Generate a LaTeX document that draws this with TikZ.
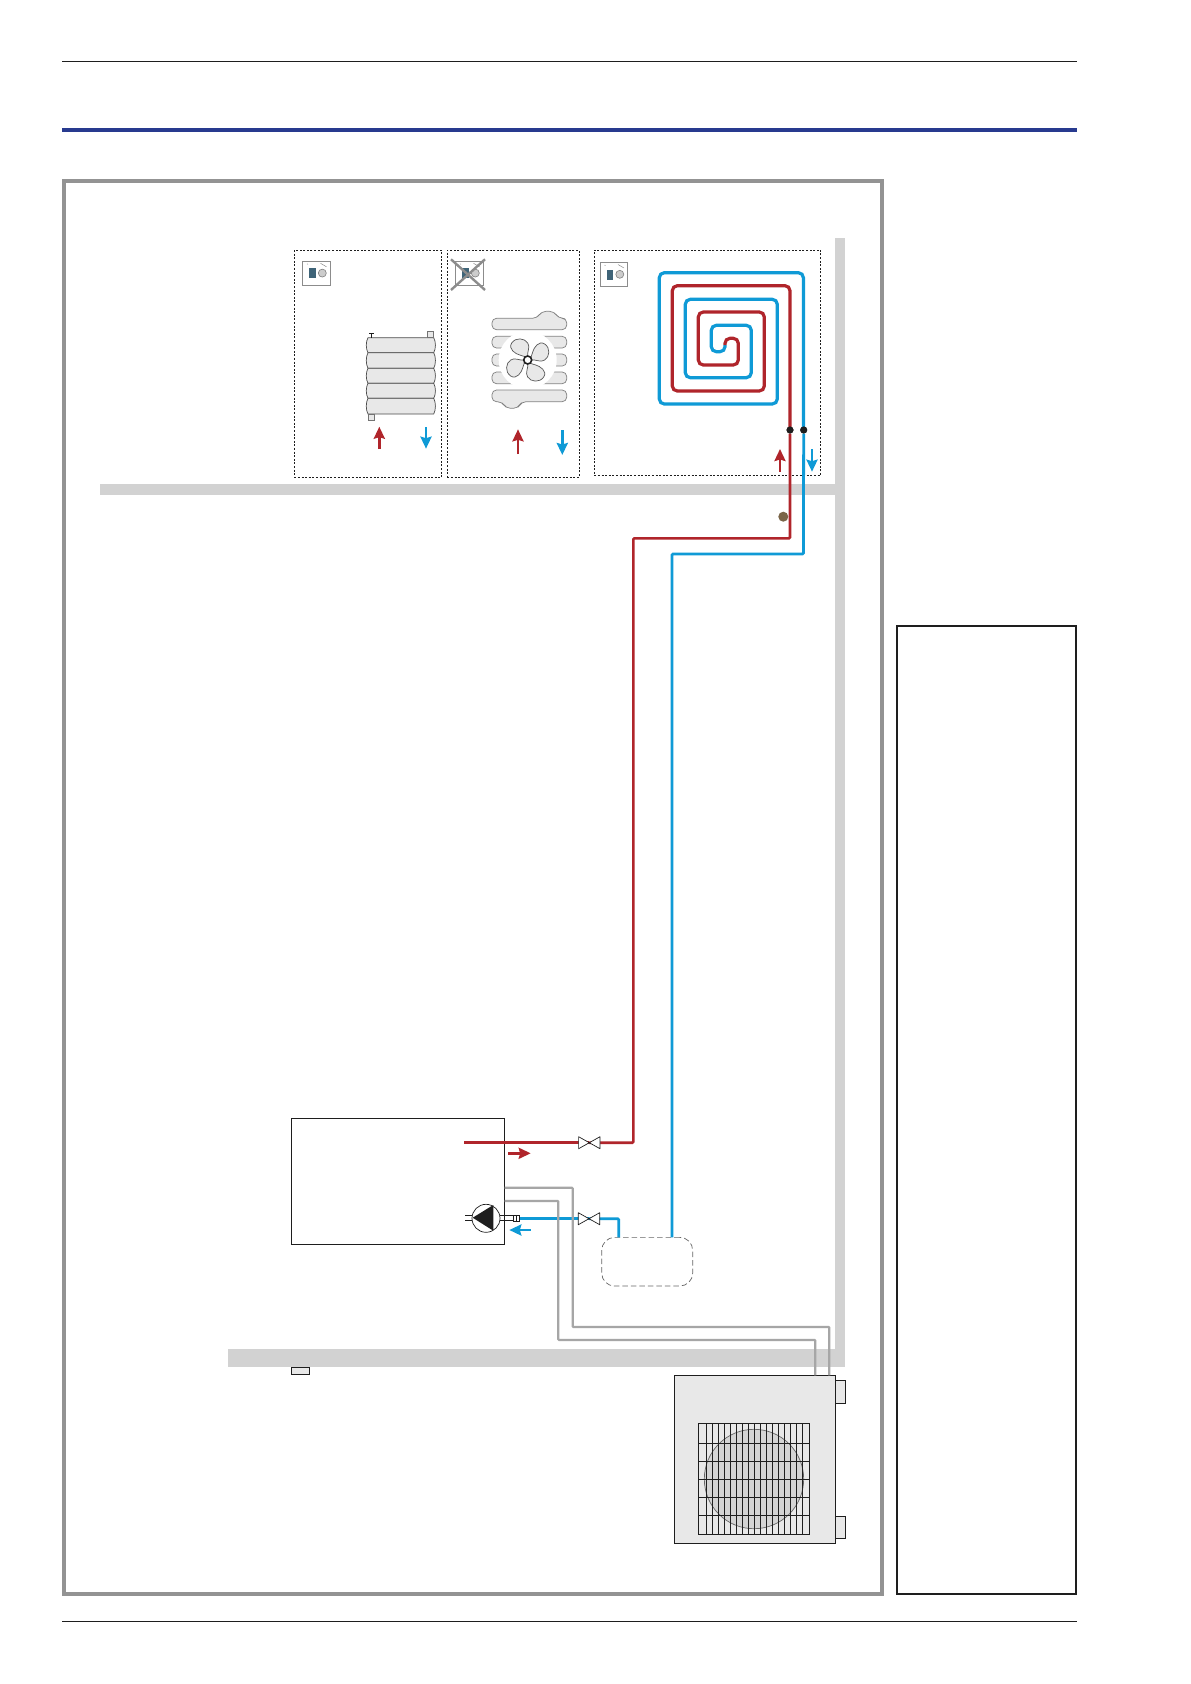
\documentclass[tikz,border=0pt]{standalone}
\usetikzlibrary{arrows.meta,calc}
\definecolor{pipered}{HTML}{B0252B}
\definecolor{pipeblue}{HTML}{0F9AD6}
\definecolor{wallgrey}{HTML}{D2D2D2}
\definecolor{framegrey}{HTML}{939393}
\definecolor{cablegrey}{HTML}{A6A6A6}
\definecolor{unitfill}{HTML}{E8E8E8}
\definecolor{headblue}{HTML}{283A8F}
\definecolor{inkblack}{HTML}{1E1E1E}
\definecolor{thermoteal}{HTML}{3F6478}
\definecolor{sensorbrown}{HTML}{7A6548}
\tikzset{
  box/.style={draw=inkblack,inner sep=0pt,outer sep=0pt,line width=0.9pt},
  zone/.style={draw=inkblack,inner sep=0pt,outer sep=0pt,line width=0.8pt,dash pattern=on 2pt off 1.6pt},
  wall/.style={fill=wallgrey,draw=none},
  redpipe/.style={draw=pipered,line width=2.6pt,rounded corners=1pt},
  bluepipe/.style={draw=pipeblue,line width=2.8pt,rounded corners=1pt},
  coilred/.style={draw=pipered,line width=3.2pt,rounded corners=5pt},
  coilblue/.style={draw=pipeblue,line width=3.2pt,rounded corners=5pt},
  cable/.style={draw=cablegrey,line width=2.2pt,rounded corners=0.8pt},
  flowred/.style={draw=pipered,line width=2.6pt,-{Stealth[length=12pt,width=11pt,inset=1.5pt]}},
  flowblue/.style={draw=pipeblue,line width=2.6pt,-{Stealth[length=12pt,width=11pt,inset=1.5pt]}},
  soft/.style={fill=unitfill,draw=black!55,line width=0.7pt},
  finpart/.style={fill=unitfill,draw=black!50,line width=0.7pt,rounded corners=4.5pt},
  blade/.style={fill=unitfill,draw=black!65,line width=0.7pt},
  pipetick/.style={draw=inkblack,line width=0.7pt},
  grille/.style={draw=inkblack,line width=0.85pt},
  thermo/.style={draw=black!45,fill=white,line width=1pt,inner sep=0pt,outer sep=0pt,minimum width=27.5pt,minimum height=24pt},
  valvenode/.style={inner sep=0pt,outer sep=0pt,minimum width=21pt,minimum height=12pt},
  joint/.style={circle,fill=inkblack,inner sep=0pt,minimum size=7pt},
}
\newcommand{\thermoface}[2]{%
  \begin{scope}[shift={(#1,#2)}]
    \fill[thermoteal] (-7.2,-5) rectangle (-1,5);
    \draw[fill=black!20,draw=black!50,line width=0.6pt] (5.8,-0.2) circle (4);
    \draw[black!45,line width=0.5pt] (4,-10) -- (10,-6.5);
    \draw[black!45,line width=0.5pt] (-9.5,-9.5) -- (-8.5,-9);
  \end{scope}}
\newcommand{\valvebody}[1]{%
  \draw[draw=inkblack,fill=white,line width=0.7pt,line join=round]
    ($(#1)+(-10.7,-6)$) -- ($(#1)+(10.7,6)$) -- ($(#1)+(10.7,-6)$) -- ($(#1)+(-10.7,6)$) -- cycle;
  \fill[inkblack] (#1) circle (1);}
\begin{document}
\begin{tikzpicture}[x=1pt,y=-1pt]
\useasboundingbox (0,0) rectangle (1191,1684);
\fill[white] (0,0) rectangle (1191,1684);

% page rules
\coordinate (ruleL) at (62,61.3);
\coordinate (ruleR) at (1077,61.3);
\draw[inkblack,line width=1pt] (ruleL) -- (ruleR);
\coordinate (headL) at (62,130);
\coordinate (headR) at (1077,130);
\draw[headblue,line width=4pt] (headL) -- (headR);
\coordinate (footL) at (62,1621.3);
\coordinate (footR) at (1077,1621.3);
\draw[inkblack,line width=1pt] (footL) -- (footR);

% frames
\draw[framegrey,line width=4pt] (64,181) rectangle (882,1593.5);
\node[draw=inkblack,line width=2pt,inner sep=0pt,outer sep=0pt,minimum width=179pt,minimum height=968.6pt] (sidebox) at (986.5,1110) {};

% walls
\fill[wall] (835,238) rectangle (845,1366);
\fill[wall] (100,484) rectangle (835,495);
\fill[wall] (228,1349) rectangle (845,1366.5);

% zones
\node[zone,minimum width=147.4pt,minimum height=227.3pt] (zoneA) at (368,363.7) {};
\node[zone,minimum width=131.7pt,minimum height=227.3pt] (zoneB) at (513.2,363.7) {};
\node[zone,minimum width=226.4pt,minimum height=225.3pt] (zoneC) at (707.5,362.7) {};

% thermostats
\node[thermo] (thA) at (316.5,273.3) {};
\thermoface{316.5}{273.3}
\node[thermo] (thB) at (469.5,273.3) {};
\thermoface{469.5}{273.3}
\draw[black!45,line width=2.4pt] (451,259.3) -- (485,290) (485,259.3) -- (451,290);
\node[thermo] (thC) at (614,274.5) {};
\thermoface{614}{274.5}

% radiator
\foreach \ya/\yb in {337.7/352.7,352.7/368.3,368.3/383.3,383.3/398.3,398.3/414}{
  \draw[soft,draw=black!70] (368,\ya) -- (433.7,\ya) .. controls (436,\ya+4) and (436,\yb-4) .. (433.7,\yb)
    -- (368,\yb) .. controls (365.7,\yb-4) and (365.7,\ya+4) .. (368,\ya) -- cycle;
}
\draw[soft] (427,331.3) rectangle (433.7,337.7);
\draw[soft] (368.3,414) rectangle (374.7,420.3);
\draw[inkblack,line width=0.7pt] (371.5,337.7) -- (371.5,333.5) (369.3,333.5) -- (373.7,333.5);
\coordinate (radUpS) at (379.3,449);   \coordinate (radUpE) at (379.3,426.7);
\coordinate (radDnS) at (426,427.3);   \coordinate (radDnE) at (426,448.7);
\draw[flowred] (radUpS) -- (radUpE);
\draw[flowblue] (radDnS) -- (radDnE);

% fan convector
\draw[finpart] (492,318.3) -- (537,318.3) -- (541.5,311.3) -- (554,311.3) -- (558.5,318.3) -- (566.7,318.3) -- (566.7,329.7) -- (492,329.7) -- cycle;
\draw[finpart] (492,336.3) rectangle (566.7,348);
\draw[finpart] (492,354) rectangle (566.7,366);
\draw[finpart] (492,372) rectangle (566.7,383.7);
\draw[finpart] (492,390) -- (566.7,390) -- (566.7,401.7) -- (521.5,401.7) -- (518,408.3) -- (506,408.3) -- (502,401.7) -- (492,401.7) -- cycle;
\fill[white] (527.7,360) circle (29);
\begin{scope}[shift={(527.7,360)}]
  \foreach \r in {0,90,180,270}{
    \draw[blade,rotate=\r] (0,-3) .. controls (-1,-8) and (3,-13) .. (0,-17)
      .. controls (-3,-22) and (-12,-23) .. (-16,-17) .. controls (-20,-11) and (-12,-6) .. (-8,-5)
      .. controls (-5,-4) and (-2,-3) .. (0,-3) -- cycle;
  }
\end{scope}
\node[circle,draw=inkblack,fill=white,line width=1.6pt,inner sep=0pt,minimum size=8pt] (fanhub) at (527.7,360) {};
\coordinate (fanUpS) at (518,454);   \coordinate (fanUpE) at (518,429.3);
\coordinate (fanDnS) at (562.3,430); \coordinate (fanDnE) at (562.3,455);
\draw[flowred] (fanUpS) -- (fanUpE);
\draw[flowblue] (fanDnS) -- (fanDnE);

% floor coil
\coordinate (coilMid) at (725,345);
\draw[coilblue] (803.4,430) -- (803.4,272.7) -- (659.3,272.7) -- (659.3,404) -- (777.3,404) -- (777.3,299.3)
  -- (685.3,299.3) -- (685.3,377.7) -- (751.3,377.7) -- (751.3,325.3) -- (711.3,325.3) -- (711.3,351.7)
  -- (725,351.7) -- (coilMid);
\draw[coilred] (790,430) -- (790,285.7) -- (672.3,285.7) -- (672.3,391) -- (764.3,391) -- (764.3,312)
  -- (698.3,312) -- (698.3,365) -- (738.3,365) -- (738.3,338.3) -- (725,338.3) -- (coilMid);
\coordinate (coilUpS) at (780,471.7);  \coordinate (coilUpE) at (780,449);
\coordinate (coilDnS) at (812,449);    \coordinate (coilDnE) at (812,471.7);
\draw[flowred] (coilUpS) -- (coilUpE);
\draw[flowblue] (coilDnS) -- (coilDnE);

% distribution nodes
\node[valvenode] (valveR) at (589.3,1142.7) {};
\node[valvenode] (valveB) at (589,1218.7) {};
\node[joint] (jointR) at (790,430) {};
\node[joint] (jointB) at (803.7,430) {};
\node[circle,fill=sensorbrown,inner sep=0pt,minimum size=10pt] (sensor) at (783.3,516.7) {};

% indoor unit, tank
\node[box,minimum width=213.4pt,minimum height=126pt] (indoor) at (398,1181.3) {};
\node[draw=black!60,line width=0.7pt,dash pattern=on 5.5pt off 3pt,rounded corners=13pt,inner sep=0pt,outer sep=0pt,minimum width=91pt,minimum height=48.7pt] (tank) at (647.2,1261.7) {};

% outdoor unit
\draw[box,fill=unitfill] (835.3,1380.3) rectangle (845.7,1403.3);
\draw[box,fill=unitfill] (835.3,1516.3) rectangle (845.7,1538.7);
\node[box,fill=unitfill,minimum width=161pt,minimum height=168pt] (outdoor) at (754.8,1459.3) {};
\draw[fill=black!17,draw=black!60,line width=0.7pt] (754,1479) circle (49.7);
\draw[grille] (698.3,1423.3) rectangle (809.7,1534.7);
\foreach \yy in {1443.3,1461.3,1479.3,1497.3,1515.3}{\draw[grille] (698.3,\yy) -- (809.7,\yy);}
\foreach \xx in {706,712.3,718.3,724.3,730.3,736.3,742.3,748.3,754.7,760.7,766.7,772.7,778.7,784.7,790.7,796.7,802.7}{\draw[grille] (\xx,1423.3) -- (\xx,1534.7);}

% small rect
\node[box,fill=unitfill,minimum width=18.4pt,minimum height=7.4pt] (sensorbox) at (300.5,1371) {};

% pipes
\coordinate (flowStart) at (464.3,1142.7);
\coordinate (fitEnd) at (519.3,1218.7);
\coordinate (tankIn) at (618.7,1237.3);
\coordinate (tankOut) at (672,1237.3);
\draw[redpipe] (jointR) -- (790,538.3) -- (633.3,538.3) -- (633.3,1142.7) -- (valveR.center);
\draw[redpipe] (valveR.center) -- (flowStart);
\draw[bluepipe] (jointB) -- (803.4,554) -- (672,554) -- (tankOut);
\draw[bluepipe] (fitEnd) -- (valveB.center);
\draw[bluepipe] (valveB.center) -- (618.7,1218.7) -- (tankIn);
\valvebody{valveR}
\valvebody{valveB}
\node[joint] at (jointR) {};
\node[joint] at (jointB) {};

% flow arrows at the unit
\coordinate (outS) at (508,1153.3);  \coordinate (outE) at (530.7,1153.3);
\coordinate (backS) at (530.7,1230); \coordinate (backE) at (509.3,1230);
\draw[flowred] (outS) -- (outE);
\draw[flowblue] (backS) -- (backE);

% refrigerant lines
\draw[cable] (indoor.east |- 0,1187.7) -- (572.7,1187.7) -- (572.7,1327) -- (829.3,1327) -- (829.3,1375.3);
\draw[cable] (indoor.east |- 0,1201) -- (558.3,1201) -- (558.3,1340) -- (815.3,1340) -- (815.3,1375.3);

% pump
\draw[pipetick] (465,1215.3) -- (472.7,1215.3) (465,1220.7) -- (472.7,1220.7);
\draw[pipetick] (500,1215.3) -- (513.3,1215.3) (500,1220.7) -- (513.3,1220.7);
\draw[pipetick,fill=white] (513.3,1215.3) rectangle (519.3,1221.3);
\draw[pipetick] (516.2,1215.3) -- (516.2,1221.3);
\node[circle,draw=inkblack,fill=white,line width=0.7pt,inner sep=0pt,minimum size=28pt] (pump) at (486,1218.3) {};
\fill[inkblack] (472.7,1217.7) -- (493.3,1205) -- (493.3,1230.7) -- cycle;
\end{tikzpicture}
\end{document}
